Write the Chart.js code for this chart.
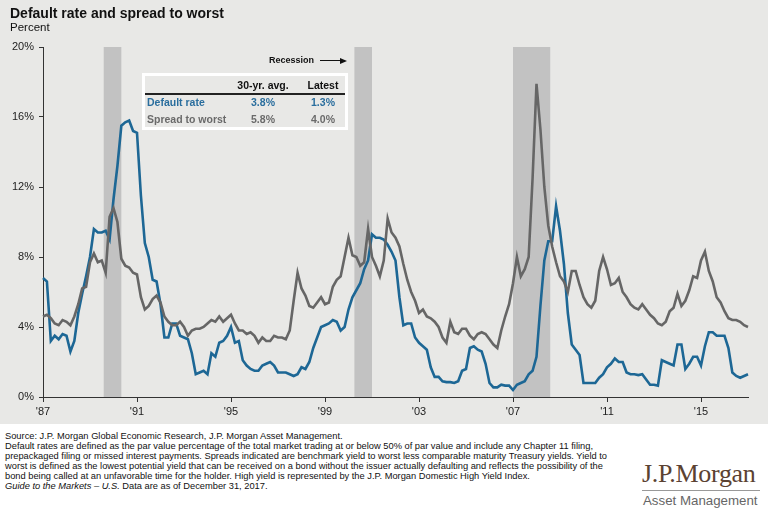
<!DOCTYPE html>
<html>
<head>
<meta charset="utf-8">
<script src="https://cdn.jsdelivr.net/npm/chart.js@4.4.1/dist/chart.umd.min.js"></script>
<style>
  body { margin: 0; width: 768px; height: 516px; background: #fff; position: relative; overflow: hidden;
         font-family: "Liberation Sans", Arial, sans-serif; color: #111; }
  #panel { position: absolute; left: 0; top: 0; width: 768px; height: 424px; background: #e8e8e6; }
  #chartBox { position: absolute; left: 0; top: 0; width: 768px; height: 424px; }
  .abs { position: absolute; white-space: nowrap; }
  .title { left: 10px; top: 6px; font-size: 14px; line-height: 14px; font-weight: bold; }
  .subtitle { left: 10px; top: 22px; font-size: 11.5px; line-height: 11.5px; }
  .recession { left: 269px; top: 56px; font-size: 9px; line-height: 9px; font-weight: bold; }
  .arrowLine { left: 320px; top: 60px; width: 21px; height: 1px; background: #111; }
  .arrowHead { left: 340px; top: 57.5px; width: 0; height: 0; border-top: 3px solid transparent;
               border-bottom: 3px solid transparent; border-left: 7px solid #111; }
  #avgBox { position: absolute; left: 142px; top: 73px; width: 200px; height: 51px; border: 3px solid #fff; }
  #avgBox .cell { position: absolute; font-size: 10.5px; line-height: 10.5px; font-weight: bold; white-space: nowrap; }
  #avgBox .rule { position: absolute; left: 0; top: 17px; width: 200px; height: 2px; background: #222; }
  .foot { left: 5px; top: 431px; font-size: 9.3px; line-height: 10px; color: #111; }
  .logo { left: 642px; top: 461px; font-family: "Liberation Serif", "Times New Roman", serif; font-size: 26px;
          line-height: 26px; color: #5b4232; letter-spacing: -0.3px; }
  .logoRule { left: 642px; top: 490px; width: 118px; height: 1px; background: #999; }
  .logoSub { left: 643px; top: 494px; font-size: 13.3px; line-height: 13.3px; color: #666; }
</style>
</head>
<body>
<div id="panel"></div>
<div id="chartBox"><canvas id="spreadChart"></canvas></div>

<div class="abs title">Default rate and spread to worst</div>
<div class="abs subtitle">Percent</div>
<div class="abs recession">Recession</div>
<div class="abs arrowLine"></div>
<div class="abs arrowHead"></div>
<div id="avgBox"></div>

<div class="abs foot">Source: J.P. Morgan Global Economic Research, J.P. Morgan Asset Management.<br>Default rates are defined as the par value percentage of the total market trading at or below 50% of par value and include any Chapter 11 filing,<br>prepackaged filing or missed interest payments. Spreads indicated are benchmark yield to worst less comparable maturity Treasury yields. Yield to<br>worst is defined as the lowest potential yield that can be received on a bond without the issuer actually defaulting and reflects the possibility of the<br>bond being called at an unfavorable time for the holder. High yield is represented by the J.P. Morgan Domestic High Yield Index.<br><i>Guide to the Markets – U.S.</i> Data are as of December 31, 2017.</div>

<div class="abs logo">J.P.Morgan</div>
<div class="abs logoRule"></div>
<div class="abs logoSub">Asset Management</div>

<script>
// bimonthly points, Dec 1987 .. Dec 2017
const startYear = 1987, startMonth = 12, stepMonths = 2;

// default rate, %
const defaultRate = [
  6.8,
  6.6, 3.2, 3.5, 3.3, 3.6, 3.5,        // 1988
  2.6, 3.2, 4.8, 5.9, 6.9, 8.0,        // 1989
  9.6, 9.4, 9.4, 9.5, 9.0, 11.3,       // 1990
  13.2, 15.5, 15.7, 15.8, 15.2, 15.1,  // 1991
  11.5, 8.8, 8.0, 6.7, 6.6, 5.3,       // 1992
  3.4, 3.4, 4.2, 4.2, 3.5, 3.4,        // 1993
  3.3, 2.5, 1.3, 1.4, 1.5, 1.3,        // 1994
  2.5, 2.3, 3.1, 3.2, 3.5, 4.0,        // 1995
  3.1, 3.2, 2.1, 1.8, 1.6, 1.5,        // 1996
  1.5, 1.8, 1.9, 2.0, 1.8, 1.4,        // 1997
  1.4, 1.4, 1.3, 1.2, 1.3, 1.7,        // 1998
  1.6, 2.0, 2.8, 3.4, 4.0, 4.1,        // 1999
  4.2, 4.4, 4.3, 3.8, 4.0, 5.0,        // 2000
  5.7, 6.1, 6.5, 7.3, 7.8, 9.3,        // 2001
  9.1, 9.1, 9.0, 8.7, 8.3, 7.8,        // 2002
  5.7, 4.1, 4.2, 4.2, 3.4, 3.1,        // 2003
  2.9, 2.7, 1.7, 1.15, 1.15, 0.9,      // 2004
  0.85, 0.85, 0.8, 0.9, 1.5, 1.6,      // 2005
  2.8, 2.9, 2.7, 2.6, 1.9, 0.8,        // 2006
  0.55, 0.55, 0.7, 0.65, 0.65, 0.4,    // 2007
  0.7, 0.8, 0.9, 1.3, 1.5, 2.3,        // 2008
  5.2, 7.8, 8.9, 8.9, 10.9, 9.5,       // 2009
  7.6, 4.8, 3.0, 2.7, 2.4, 0.8,        // 2010
  0.8, 0.8, 0.8, 1.1, 1.3, 1.7,        // 2011
  1.9, 2.2, 2.0, 2.0, 1.4, 1.3,        // 2012
  1.3, 1.25, 1.3, 1.0, 0.7, 0.7,       // 2013
  0.65, 2.1, 2.0, 1.9, 1.8, 3.0,       // 2014
  3.0, 1.6, 1.9, 2.3, 2.3, 1.8,        // 2015
  2.9, 3.7, 3.7, 3.5, 3.5, 3.5,        // 2016
  2.8, 1.4, 1.2, 1.1, 1.2, 1.3         // 2017
];

// spread to worst, %
const spreadToWorst = [
  4.6,
  4.7, 4.5, 4.2, 4.1, 4.4, 4.3,        // 1988
  4.1, 4.6, 5.3, 6.2, 6.3, 7.7,        // 1989
  8.2, 7.7, 7.8, 7.1, 10.3, 10.8,      // 1990
  10.0, 7.9, 7.5, 7.4, 7.1, 7.0,       // 1991
  5.7, 5.0, 5.2, 5.6, 5.8, 5.4,        // 1992
  4.6, 4.3, 4.1, 4.1, 4.3, 4.0,        // 1993
  3.5, 3.8, 3.9, 3.9, 4.0, 4.2,        // 1994
  4.4, 4.3, 4.6, 4.3, 4.5, 4.7,        // 1995
  4.2, 3.8, 3.8, 3.6, 3.7, 3.5,        // 1996
  3.1, 3.4, 3.2, 3.2, 3.5, 3.4,        // 1997
  3.4, 3.3, 3.8, 5.5, 7.1, 6.2,        // 1998
  5.8, 5.2, 5.1, 5.4, 5.7, 5.3,        // 1999
  5.4, 6.3, 6.7, 6.9, 8.0, 9.1,        // 2000
  8.1, 8.0, 7.5, 7.7, 9.6, 8.0,        // 2001
  7.5, 6.9, 7.8, 10.2, 9.4, 9.1,       // 2002
  8.6, 7.6, 6.7, 6.0, 5.5, 4.8,        // 2003
  5.0, 4.6, 4.5, 4.3, 4.0, 3.4,        // 2004
  3.1, 4.3, 3.7, 3.6, 3.9, 3.9,        // 2005
  3.5, 3.3, 3.6, 3.7, 3.6, 3.3,        // 2006
  3.0, 2.8, 3.8, 4.6, 5.3, 6.5,        // 2007
  8.0, 6.9, 7.3, 8.0, 12.5, 17.9,      // 2008
  15.3, 12.0, 9.8, 8.6, 7.7, 6.9,      // 2009
  6.6, 6.0, 7.2, 7.2, 6.4, 5.7,        // 2010
  5.3, 5.1, 5.5, 7.2, 8.0, 7.3,        // 2011
  6.4, 6.5, 6.8, 6.0, 5.7, 5.3,        // 2012
  5.1, 5.0, 5.3, 5.0, 4.7, 4.5,        // 2013
  4.2, 4.1, 4.3, 4.9, 5.1, 5.9,        // 2014
  5.2, 5.5, 6.1, 6.9, 6.8, 7.8,        // 2015
  8.3, 7.2, 6.6, 5.7, 5.4, 4.9,        // 2016
  4.5, 4.4, 4.4, 4.3, 4.1, 4.0         // 2017
];

// recessions: first and last month
const recessions = [
  ['1990-07', '1991-03'],
  ['2001-03', '2001-11'],
  ['2007-12', '2009-06']
];

const yTicks = [0, 4, 8, 12, 16, 20];

const tableHeader = ['30-yr. avg.', 'Latest'];
const tableNames = ['Default rate', 'Spread to worst'];
const tableAvg = ['3.8%', '5.8%'];
const tableLatest = ['1.3%', '4.0%'];

const blue = '#1d6795';
const grey = '#666666';

// category labels "YYYY-MM"
const labels = defaultRate.map((_, i) => {
  const m = (startYear * 12 + startMonth - 1) + i * stepMonths;
  return Math.floor(m / 12) + '-' + String(m % 12 + 1).padStart(2, '0');
});

function monthToIndex(s) {
  const [y, m] = s.split('-').map(Number);
  return ((y * 12 + m - 1) - (startYear * 12 + startMonth - 1)) / stepMonths;
}

// the little table of averages
const box = document.getElementById('avgBox');
function cell(text, left, top, width, color, align) {
  const d = document.createElement('div');
  d.className = 'cell';
  d.textContent = text;
  d.style.left = left + 'px';
  d.style.top = top + 'px';
  d.style.color = color;
  if (width) { d.style.width = width + 'px'; d.style.textAlign = align || 'center'; }
  box.appendChild(d);
}
cell(tableHeader[0], 78, 4, 80, '#111');
cell(tableHeader[1], 148, 4, 60, '#111');
const rule = document.createElement('div');
rule.className = 'rule';
box.appendChild(rule);
const rowColors = ['#2a6e9e', '#6a6a6a'];
tableNames.forEach((name, r) => {
  const top = 21 + r * 17;
  cell(name, 2, top, 0, rowColors[r]);
  cell(tableAvg[r], 78, top, 80, rowColors[r]);
  cell(tableLatest[r], 148, top, 60, rowColors[r]);
});

const recessionBars = {
  id: 'recessionBars',
  beforeDatasetsDraw(chart) {
    const { ctx, chartArea, scales: { x } } = chart;
    ctx.save();
    ctx.fillStyle = '#c2c2c2';
    recessions.forEach(([a, b]) => {
      const x0 = x.getPixelForValue(monthToIndex(a));
      const x1 = x.getPixelForValue(monthToIndex(b) + 1 / stepMonths);
      ctx.fillRect(x0, chartArea.top, x1 - x0, chartArea.bottom - chartArea.top);
    });
    ctx.restore();
  }
};

Chart.defaults.font.family = '"Liberation Sans Narrow", "Liberation Sans", Arial, sans-serif';
Chart.defaults.color = '#222';

new Chart(document.getElementById('spreadChart'), {
  type: 'line',
  data: {
    labels: labels,
    datasets: [
      { label: 'Default rate', data: defaultRate, borderColor: blue, borderWidth: 2.6,
        pointRadius: 0, tension: 0, order: 2 },
      { label: 'Spread to worst', data: spreadToWorst, borderColor: grey, borderWidth: 2.6,
        pointRadius: 0, tension: 0, order: 1 }
    ]
  },
  options: {
    responsive: true,
    maintainAspectRatio: false,
    animation: false,
    events: [],
    layout: { padding: { top: 47, right: 20, left: 0, bottom: 0 } },
    plugins: { legend: { display: false }, tooltip: { enabled: false } },
    scales: {
      x: {
        afterFit: s => { s.height = 27; },
        grid: { drawOnChartArea: false, drawTicks: true, tickLength: 5, color: '#333' },
        border: { display: true, color: '#333', width: 1 },
        ticks: {
          autoSkip: false, maxRotation: 0, minRotation: 0, padding: 3,
          font: { size: 11 }, color: '#222',
          callback: function (v) {
            const [y, m] = this.getLabelForValue(v).split('-');
            if (m === '12' && (y - startYear) % 4 === 0) return "'" + y.slice(2);
            return null;
          }
        }
      },
      y: {
        min: 0, max: 20,
        afterFit: s => { s.width = 43; },
        afterBuildTicks: s => { s.ticks = yTicks.map(v => ({ value: v })); },
        grid: { drawOnChartArea: false, drawTicks: true, tickLength: 4, color: '#333' },
        border: { display: true, color: '#333', width: 1 },
        ticks: { padding: 5, font: { size: 11 }, color: '#222', callback: v => v + '%' }
      }
    }
  },
  plugins: [recessionBars]
});
</script>
</body>
</html>
